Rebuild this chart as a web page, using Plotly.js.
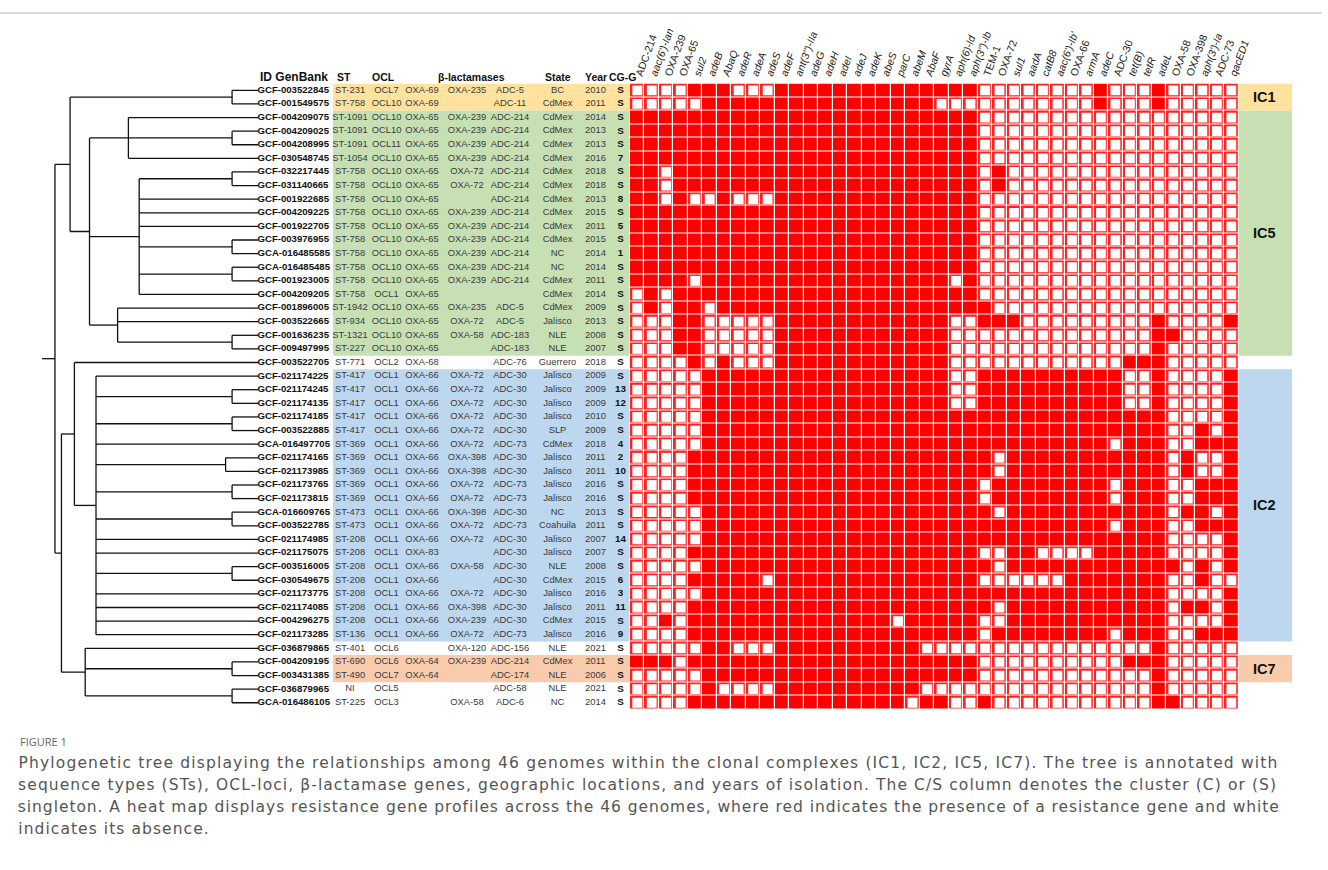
<!DOCTYPE html>
<html><head><meta charset="utf-8">
<script src="https://cdn.plot.ly/plotly-3.0.1.min.js"></script>
<style>html,body{margin:0;padding:0;background:#fff;}#chart{width:1328px;height:870px;}</style>
</head><body><div id="chart"></div>
<script>
// ---------------- DATA ----------------
const GENES = ["ADC-214","aac(6')-Ian","OXA-239","OXA-65","sul2","adeB","AbaQ","adeR","adeA","adeS","adeF","ant(3'')-IIa","adeG","adeH","adeI","adeJ","adeK","abeS","parC","abeM","AbaF","gyrA","aph(6)-Id","aph(3'')-Ib","TEM-1","OXA-72","sul1","aadA","catB8","aac(6')-Ib'","OXA-66","armA","adeC","ADC-30","tet(B)","tetR","adeL","OXA-58","OXA-398","aph(3')-Ia","ADC-73","qacED1"];

const IDS = ["GCF-003522845","GCF-001549575","GCF-004209075","GCF-004209025","GCF-004208995","GCF-030548745","GCF-032217445","GCF-031140665","GCF-001922685","GCF-004209225","GCF-001922705","GCF-003976955","GCA-016485585","GCA-016485485","GCF-001923005","GCF-004209205","GCF-001896005","GCF-003522665","GCF-001636235","GCF-009497995","GCF-003522705","GCF-021174225","GCF-021174245","GCF-021174135","GCF-021174185","GCF-003522885","GCA-016497705","GCF-021174165","GCF-021173985","GCF-021173765","GCF-021173815","GCA-016609765","GCF-003522785","GCF-021174985","GCF-021175075","GCF-003516005","GCF-030549675","GCF-021173775","GCF-021174085","GCF-004296275","GCF-021173285","GCF-036879865","GCF-004209195","GCF-003431385","GCF-036879965","GCA-016486105"];

const ST = ["ST-231","ST-758","ST-1091","ST-1091","ST-1091","ST-1054","ST-758","ST-758","ST-758","ST-758","ST-758","ST-758","ST-758","ST-758","ST-758","ST-758","ST-1942","ST-934","ST-1321","ST-227","ST-771","ST-417","ST-417","ST-417","ST-417","ST-417","ST-369","ST-369","ST-369","ST-369","ST-369","ST-473","ST-473","ST-208","ST-208","ST-208","ST-208","ST-208","ST-208","ST-208","ST-136","ST-401","ST-690","ST-490","NI","ST-225"];

const OCL = ["OCL7","OCL10","OCL10","OCL10","OCL11","OCL10","OCL10","OCL10","OCL10","OCL10","OCL10","OCL10","OCL10","OCL10","OCL10","OCL1","OCL10","OCL10","OCL10","OCL10","OCL2","OCL1","OCL1","OCL1","OCL1","OCL1","OCL1","OCL1","OCL1","OCL1","OCL1","OCL1","OCL1","OCL1","OCL1","OCL1","OCL1","OCL1","OCL1","OCL1","OCL1","OCL6","OCL6","OCL7","OCL5","OCL3"];

const OXA_A = ["OXA-69","OXA-69","OXA-65","OXA-65","OXA-65","OXA-65","OXA-65","OXA-65","OXA-65","OXA-65","OXA-65","OXA-65","OXA-65","OXA-65","OXA-65","OXA-65","OXA-65","OXA-65","OXA-65","OXA-65","OXA-68","OXA-66","OXA-66","OXA-66","OXA-66","OXA-66","OXA-66","OXA-66","OXA-66","OXA-66","OXA-66","OXA-66","OXA-66","OXA-66","OXA-83","OXA-66","OXA-66","OXA-66","OXA-66","OXA-66","OXA-66","","OXA-64","OXA-64","",""];

const OXA_B = ["OXA-235","","OXA-239","OXA-239","OXA-239","OXA-239","OXA-72","OXA-72","","OXA-239","OXA-239","OXA-239","OXA-239","OXA-239","OXA-239","","OXA-235","OXA-72","OXA-58","","","OXA-72","OXA-72","OXA-72","OXA-72","OXA-72","OXA-72","OXA-398","OXA-398","OXA-72","OXA-72","OXA-398","OXA-72","OXA-72","","OXA-58","","OXA-72","OXA-398","OXA-239","OXA-72","OXA-120","OXA-239","","","OXA-58"];

const ADC = ["ADC-5","ADC-11","ADC-214","ADC-214","ADC-214","ADC-214","ADC-214","ADC-214","ADC-214","ADC-214","ADC-214","ADC-214","ADC-214","ADC-214","ADC-214","","ADC-5","ADC-5","ADC-183","ADC-183","ADC-76","ADC-30","ADC-30","ADC-30","ADC-30","ADC-30","ADC-73","ADC-30","ADC-30","ADC-73","ADC-73","ADC-30","ADC-73","ADC-30","ADC-30","ADC-30","ADC-30","ADC-30","ADC-30","ADC-30","ADC-73","ADC-156","ADC-214","ADC-174","ADC-58","ADC-6"];

const STATE = ["BC","CdMex","CdMex","CdMex","CdMex","CdMex","CdMex","CdMex","CdMex","CdMex","CdMex","CdMex","NC","NC","CdMex","CdMex","CdMex","Jalisco","NLE","NLE","Guerrero","Jalisco","Jalisco","Jalisco","Jalisco","SLP","CdMex","Jalisco","Jalisco","Jalisco","Jalisco","NC","Coahuila","Jalisco","Jalisco","NLE","CdMex","Jalisco","Jalisco","CdMex","Jalisco","NLE","CdMex","NLE","NLE","NC"];

const YEAR = ["2010","2011","2014","2013","2013","2016","2018","2018","2013","2015","2011","2015","2014","2014","2011","2014","2009","2013","2008","2007","2018","2009","2009","2009","2010","2009","2018","2011","2011","2016","2016","2013","2011","2007","2007","2008","2015","2016","2011","2015","2016","2021","2011","2006","2021","2014"];

const CGG = ["S","S","S","S","S","7","S","S","8","S","5","S","1","S","S","S","S","S","S","S","S","S","13","12","S","S","4","2","10","S","S","S","S","14","S","S","6","3","11","S","9","S","S","S","S","S"];

const CLADE = ["IC1","IC1","IC5","IC5","IC5","IC5","IC5","IC5","IC5","IC5","IC5","IC5","IC5","IC5","IC5","IC5","IC5","IC5","IC5","IC5","","IC2","IC2","IC2","IC2","IC2","IC2","IC2","IC2","IC2","IC2","IC2","IC2","IC2","IC2","IC2","IC2","IC2","IC2","IC2","IC2","","IC7","IC7","",""];

// presence (1) / absence (0) of each gene, one string per genome (spaces only for readability)
const PRESENCE = [
"0000111000 11111111111 111 000000001000100000",
"0000011111 11111111111 000 000000001000100000",
"1111111111 11111111111 111 000000000000000000",
"1111111111 11111111111 111 000000000000000000",
"1111111111 11111111111 111 000000000000000000",
"1111111111 11111111111 111 000000000000000000",
"1101111111 11111111111 111 010000000000000000",
"1101111111 11111111111 111 010000000000000000",
"1101001000 11111111111 111 000000000000000000",
"1111111111 11111111111 111 000000000000000000",
"1111111111 11111111111 111 000000000000000000",
"1111111111 11111111111 111 000000000000000000",
"1111111111 11111111111 111 000000000000000000",
"1111111111 11111111111 111 000000000000000000",
"1111011111 11111111111 101 000000000000000000",
"0101111111 11111111111 111 000000000000000000",
"0101101111 11111111111 111 100000000000000000",
"0001100000 11111111111 100 111000000000100001",
"0001100000 11111111111 100 000000000000110000",
"0001100000 11111111111 100 000000000000100000",
"0000101000 11111111111 100 000000000011100000",
"0000011111 11111111111 100 111111111100100001",
"0000011111 11111111111 100 111111111100100001",
"0000011111 11111111111 100 111111111100100001",
"0000011111 11111111111 111 111111111111100001",
"0000011111 11111111111 111 111111111111100101",
"0000011111 11111111111 111 111111111011100111",
"0000111111 11111111111 111 101111111111101001",
"0000111111 11111111111 111 101111111111101001",
"0000111111 11111111111 111 011111111011100111",
"0000111111 11111111111 111 011111111011100111",
"0000011111 11111111111 111 101111111111101101",
"0000011111 11111111111 111 111111111011100111",
"0000011111 11111111111 111 111111111111100001",
"0000111111 11111111111 111 001100001111100001",
"0000011111 11111111111 111 101111111111110101",
"0000111110 11111111111 111 000000111111100100",
"0000011111 11111111111 111 111111111111100001",
"0000111111 11111111111 111 101111111111101101",
"0010111111 11111111011 111 001111111111100001",
"0000111111 11111111111 111 011111111011100111",
"0000011000 11111111110 000 000000000000100000",
"1110111111 11111111111 111 000000000011100000",
"0000011111 11111111111 111 000000000000100000",
"0000010000 11111111110 000 000000000000100000",
"0000111111 11111111101 100 100000000000110000"
];

// dendrogram: [node depth (0 root .. 1 tips), children...]; tips are genome row numbers
const TREE = [0.06,
  [0.13,
    [0.88, 1, 2],
    [0.22,
      [0.40, 3, [0.88, 4, 5], 6],
      [0.45, [0.88, 7, 8], 9, 10, 11, [0.88, 12, 13], [0.88, 14, 15], 16],
      [0.35, 17, 18, [0.88, 19, 20]]]],
  [0.09,
    [0.15, 21,
      [0.25, 22, [0.88, 23, 24], [0.88, 25, 26], 27, [0.85, 28, 29], [0.88, 30, 31], [0.88, 32, 33], 34, 35, [0.88, 36, 37], 38, 39, 40, 41]],
    [0.20, 42, [0.88, 43, 44], [0.88, 45, 46]]]];

const CLADE_COLORS = {IC1:"#FFE29E", IC5:"#C6E0B4", IC2:"#BDD7EE", IC7:"#F8CBAD"};

const CAPTION = [
"Phylogenetic tree displaying the relationships among 46 genomes within the clonal complexes (IC1, IC2, IC5, IC7). The tree is annotated with",
"sequence types (STs), OCL-loci, β-lactamase genes, geographic locations, and years of isolation. The C/S column denotes the cluster (C) or (S)",
"singleton. A heat map displays resistance gene profiles across the 46 genomes, where red indicates the presence of a resistance gene and white",
"indicates its absence."
];

// ---------------- GEOMETRY ----------------
const W = 1328, H = 870;
const TOP = 83.5, PITCH = 13.61, N = IDS.length;
const BOT = TOP + N * PITCH;
const HX0 = 630, HX1 = HX0 + GENES.length * 14.49;
const px = v => v / W, py = v => 1 - v / H;
const FONT = "Liberation Sans, Arial, sans-serif";
const CAPSIZE = 15.5;
const CAPFONT_CSS = CAPSIZE + "px 'DejaVu Sans'";

const M = PRESENCE.map(s => s.replace(/ /g, "").split("").map(Number));
const rows = IDS.map((_, i) => i);
const cols = GENES.map((_, j) => j);

const traces = [];
traces.push({type: "heatmap", x: cols, y: rows, z: M, zmin: 0, zmax: 1,
  colorscale: [[0, "#ff2020"], [1, "#ff0000"]], showscale: false,
  xgap: 1.2, ygap: 1, hoverinfo: "skip", xaxis: "x", yaxis: "y"});
const ax = [], ay = [];
M.forEach((r, i) => r.forEach((v, j) => { if (!v) { ax.push(j); ay.push(i); } }));
traces.push({type: "scatter", mode: "markers", x: ax, y: ay, xaxis: "x", yaxis: "y",
  marker: {symbol: "square", size: 9.8, color: "#ffffff", line: {width: 0}}, hoverinfo: "skip"});

// tree
const segs = [];
function walk(node) {
  if (typeof node === "number") return {x: 1, y: node - 1};
  const d = node[0];
  const kids = node.slice(1).map(walk);
  const ys = kids.map(k => k.y);
  const y0 = Math.min(...ys), y1 = Math.max(...ys);
  segs.push([d, y0, d, y1]);
  kids.forEach(k => segs.push([d, k.y, k.x, k.y]));
  return {x: d, y: (y0 + y1) / 2};
}
const root = walk(TREE);
segs.push([0, root.y, TREE[0], root.y]);
const tx = [], ty = [];
segs.forEach(s => { tx.push(s[0], s[2], null); ty.push(s[1], s[3], null); });
traces.push({type: "scatter", mode: "lines", x: tx, y: ty, xaxis: "x3", yaxis: "y",
  line: {color: "#111", width: 1.3}, hoverinfo: "skip", cliponaxis: false});

// table columns (x in px on axis x2)
function col(x, arr, opts) {
  traces.push(Object.assign({type: "scatter", mode: "text", x: arr.map(() => x), y: rows,
    text: arr, textposition: "middle center", xaxis: "x2", yaxis: "y", cliponaxis: false,
    textfont: {family: FONT, size: 9.4, color: "#3a3a3a"}, hoverinfo: "skip"}, opts || {}));
}
col(257.5, IDS.map(s => "<b>" + s + "</b>"), {textposition: "middle right", textfont: {family: FONT, size: 9.6, color: "#111"}});
col(350, ST);
col(386.5, OCL);
col(422, OXA_A);
col(467, OXA_B);
col(510, ADC);
col(557.5, STATE);
col(595.5, YEAR);
col(620.5, CGG.map(s => "<b>" + s + "</b>"), {textfont: {family: FONT, size: 9.8, color: "#111"}});

// clade shading
const shapes = [];
const annotations = [];
let i = 0;
while (i < N) {
  const c = CLADE[i]; let j = i;
  while (j + 1 < N && CLADE[j + 1] === c) j++;
  if (c) {
    shapes.push({type: "rect", xref: "x2", yref: "y", x0: 333, x1: 629.5, y0: i - 0.5, y1: j + 0.5,
      fillcolor: CLADE_COLORS[c], line: {width: 0}, layer: "below"});
    shapes.push({type: "rect", xref: "paper", yref: "y", x0: px(HX1), x1: px(1292), y0: i - 0.5, y1: j + 0.5,
      fillcolor: CLADE_COLORS[c], line: {width: 0}, layer: "below"});
    annotations.push({xref: "paper", yref: "y", x: px(1264), y: (i + j) / 2, text: "<b>" + c + "</b>",
      xanchor: "center", yanchor: "middle",
      showarrow: false, font: {family: FONT, size: 14.5, color: "#111"}});
  }
  i = j + 1;
}

// headers
const HY = py(77);
const hdr = (x, t, anchor, size) => annotations.push({xref: "x2", yref: "paper", x: x, y: HY, text: "<b>" + t + "</b>",
  xanchor: anchor || "center", yanchor: "middle", showarrow: false, font: {family: FONT, size: size || 10.5, color: "#111"}});
hdr(258, "ID GenBank", "left", 12);
hdr(344, "ST");
hdr(383, "OCL");
hdr(471, "β-lactamases");
hdr(558, "State");
hdr(596, "Year");
hdr(622, "CG-G");

// caption (justified lines: letter-spacing computed from measured text width)
annotations.push({xref: "paper", yref: "paper", x: px(18), y: py(741), xanchor: "left", yanchor: "middle",
  text: "FIGURE 1", showarrow: false, font: {family: "Open Sans, sans-serif", size: 11, color: "#666"}});
const ctx = document.createElement("canvas").getContext("2d");
ctx.font = CAPFONT_CSS;
const LEFT = 18, ENDS = [1278, 1277, 1280];
const spacings = CAPTION.slice(0, 3).map((t, k) => (ENDS[k] - LEFT - ctx.measureText(t).width) / t.length);
const avgLs = spacings.reduce((a, b) => a + b, 0) / spacings.length;
let css = "";
CAPTION.forEach((t, k) => {
  const ls = k < 3 ? spacings[k] : avgLs;
  const w = ctx.measureText(t).width + ls * t.length;
  css += 'g.annotation[data-index="' + annotations.length + '"] text{letter-spacing:' + ls.toFixed(3) + 'px}';
  annotations.push({xref: "paper", yref: "paper", x: px(LEFT + w / 2), y: py(763 + 22 * k),
    xanchor: "center", yanchor: "middle", text: t, showarrow: false,
    font: {family: "DejaVu Sans, sans-serif", size: CAPSIZE, color: "#555"}});
});
const st = document.createElement("style"); st.textContent = css; document.head.appendChild(st);

// frame line
shapes.push({type: "line", xref: "paper", yref: "paper", x0: 0, x1: px(1322), y0: py(13), y1: py(13), line: {color: "#cfcfcf", width: 1.5}});

const geneTicks = GENES.map(g => /^(OXA|ADC|TEM)/.test(g) ? g : "<i>" + g + "</i>");

const layout = {
  width: W, height: H, margin: {l: 0, r: 0, t: 0, b: 0},
  paper_bgcolor: "#fff", plot_bgcolor: "rgba(0,0,0,0)", showlegend: false,
  font: {family: FONT},
  xaxis: {domain: [px(HX0), px(HX1)], range: [-0.5, GENES.length - 0.5], anchor: "y", side: "top",
    tickmode: "array", tickvals: cols, ticktext: geneTicks, tickangle: -70, ticks: "", showgrid: false,
    zeroline: false, showline: false, tickfont: {family: FONT, size: 10.5, color: "#222"}, fixedrange: true},
  yaxis: {domain: [py(BOT), py(TOP)], range: [N - 0.5, -0.5], visible: false, fixedrange: true},
  xaxis2: {domain: [0, px(HX0)], range: [0, HX0], anchor: "y", visible: false, fixedrange: true},
  xaxis3: {domain: [px(42), px(258)], range: [0, 1], anchor: "y", visible: false, fixedrange: true},
  shapes: shapes, annotations: annotations
};

Plotly.newPlot("chart", traces, layout, {staticPlot: true, displayModeBar: false});
</script></body></html>
